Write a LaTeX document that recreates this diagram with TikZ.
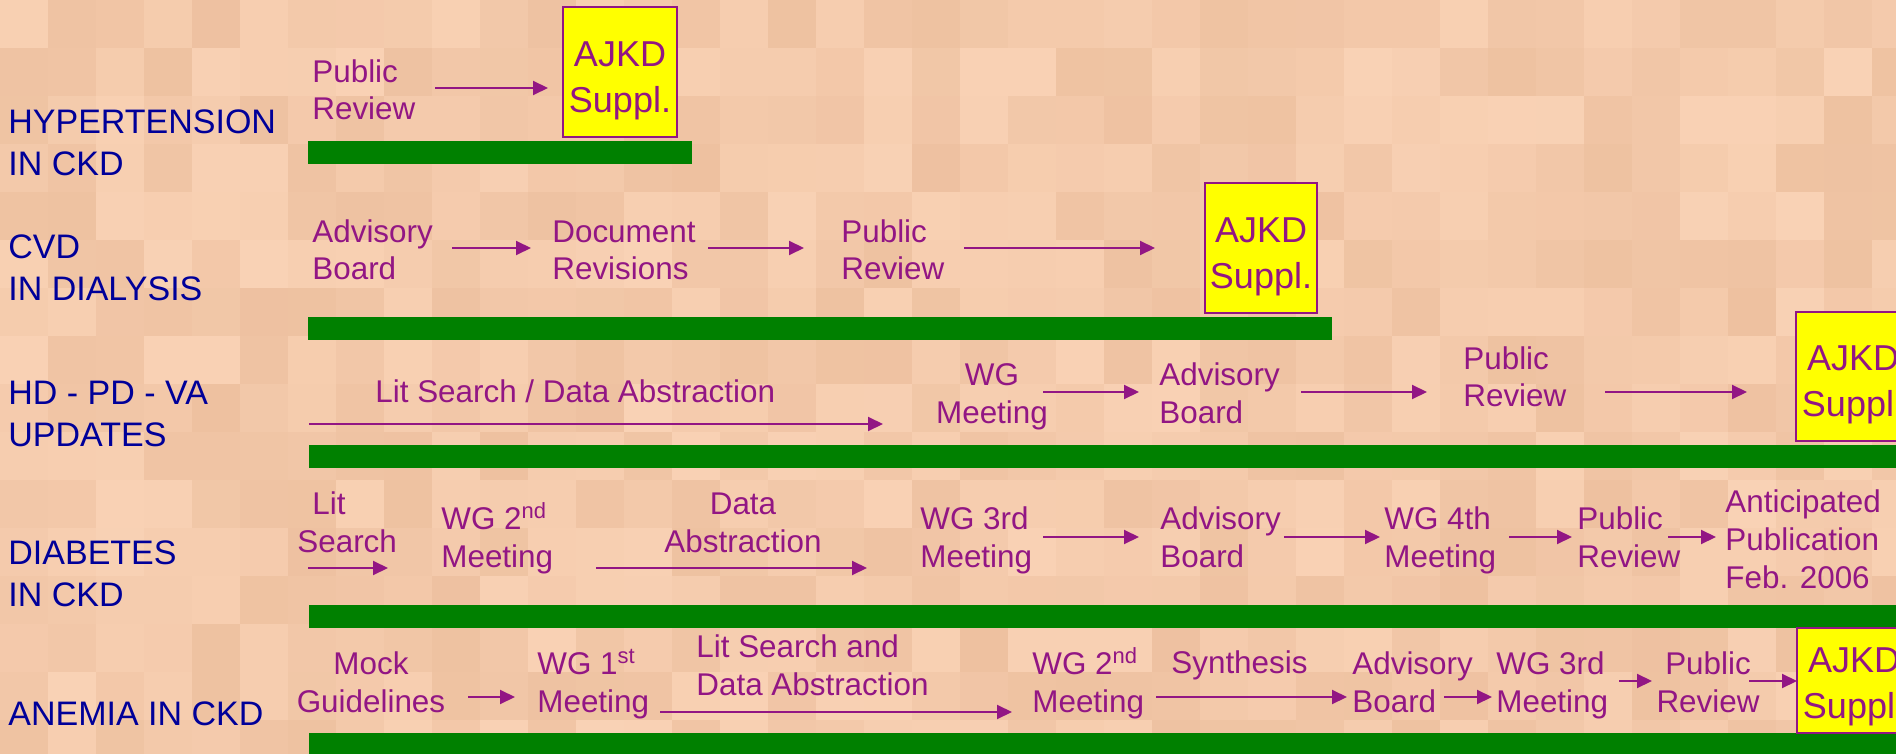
\documentclass[tikz,border=0pt]{standalone}
\usepackage{fontspec}
\setmainfont{Liberation Sans}
\usetikzlibrary{arrows.meta}
\definecolor{bgA}{RGB}{252,214,186}
\definecolor{bgB}{RGB}{233,186,152}
\definecolor{navyblue}{RGB}{0,0,153}
\definecolor{plum}{RGB}{146,22,132}
\definecolor{barGreen}{RGB}{0,128,0}
\definecolor{pubYellow}{RGB}{255,255,0}
\begin{document}
\begin{tikzpicture}[x=0.5pt,y=-0.5pt,
  lbl/.style={text=navyblue, font=\fontsize{17}{21}\selectfont, align=left, anchor=base west, inner sep=0pt},
  stage/.style={text=plum, font=\fontsize{15.7}{18.8}\selectfont, align=left, anchor=base west, inner sep=0pt},
  stagec/.style={stage, align=center, anchor=base},
  flow/.style={draw=plum, line width=1pt, -{Triangle[length=7.5pt,width=7pt]}},
  bar/.style={fill=barGreen, draw=none},
  pubbox/.style={draw=plum, line width=0.7pt, fill=pubYellow, inner sep=0pt},
  pubtext/.style={text=plum, font=\fontsize{18}{23}\selectfont, align=center, inner sep=0pt}]
% background
\useasboundingbox (0,0) rectangle (1896,754);
\clip (0,0) rectangle (1896,754);
\fill[bgA] (0,0) rectangle (1896,754);
\pgfmathsetseed{7}
\foreach \i in {0,...,39}{
  \foreach \j in {0,...,15}{
    \pgfmathsetmacro{\m}{int(25+rnd*60)}
    \fill[bgA!\m!bgB] (\i*48,\j*48) rectangle +(48,48);
  }
}
% ---------- green bars ----------
\fill[bar] (308,141) rectangle (692,164);
\fill[bar] (308,317) rectangle (1332,340);
\fill[bar] (309,445) rectangle (1896,468);
\fill[bar] (309,605) rectangle (1896,628);
\fill[bar] (309,733) rectangle (1896,754);
% ---------- row labels ----------
\node[lbl] (l1) at (8,176) {HYPERTENSION\\IN CKD};
\node[lbl] (l2) at (8,301) {CVD\\IN DIALYSIS};
\node[lbl] (l3) at (8,446) {HD - PD - VA\\UPDATES};
\node[lbl] (l4) at (8,606) {DIABETES\\IN CKD};
\node[lbl] (l5) at (8,725) {ANEMIA IN CKD};
% ---------- row 1 ----------
\node[stage] (r1a) at (312,120) {Public\\Review};
\node[pubbox, minimum width=57pt, minimum height=65pt] (r1b) at (620,72) {};
\node[pubtext] (r1bt) at ([yshift=-4.5pt]r1b.center) {AJKD\\Suppl.};
\coordinate (r1a1) at (435,88); \coordinate (r1a2) at (548,88);
\draw[flow] (r1a1) -- (r1a2);
% ---------- row 2 ----------
\node[stage] (r2a) at (312,280) {Advisory\\Board};
\node[stage] (r2b) at (552,280) {Document\\Revisions};
\node[stage] (r2c) at (841,280) {Public\\Review};
\node[pubbox, minimum width=56pt, minimum height=65pt] (r2d) at (1261,248) {};
\node[pubtext] (r2dt) at ([yshift=-4.5pt]r2d.center) {AJKD\\Suppl.};
\coordinate (r2s1) at (452,248); \coordinate (r2e1) at (531,248);
\coordinate (r2s2) at (708,248); \coordinate (r2e2) at (804,248);
\coordinate (r2s3) at (964,248); \coordinate (r2e3) at (1155,248);
\draw[flow] (r2s1) -- (r2e1);
\draw[flow] (r2s2) -- (r2e2);
\draw[flow] (r2s3) -- (r2e3);
% ---------- row 3 ----------
\node[stage] (r3a) at (375,402) {Lit Search / Data Abstraction};
\node[stagec] (r3b) at (992,423) {WG\\Meeting};
\node[stage] (r3c) at (1159,423) {Advisory\\Board};
\node[stage] (r3d) at (1463,407) {Public\\Review};
\node[pubbox, minimum width=57pt, minimum height=64.5pt] (r3e) at (1853,376.5) {};
\node[pubtext] (r3et) at ([yshift=-4pt]r3e.center) {AJKD\\Suppl.};
\coordinate (r3s1) at (309,424); \coordinate (r3e1) at (883,424);
\coordinate (r3s2) at (1043,392); \coordinate (r3e2) at (1139,392);
\coordinate (r3s3) at (1301,392); \coordinate (r3e3) at (1427,392);
\coordinate (r3s4) at (1605,392); \coordinate (r3e4) at (1747,392);
\draw[flow] (r3s1) -- (r3e1);
\draw[flow] (r3s2) -- (r3e2);
\draw[flow] (r3s3) -- (r3e3);
\draw[flow] (r3s4) -- (r3e4);
% ---------- row 4 ----------
\node[stage] (r4a) at (297,552) {\hspace*{7.5pt}Lit\\Search};
\node[stage] (r4b) at (441,567) {WG 2\textsuperscript{nd}\\Meeting};
\node[stagec] (r4c) at (743,552) {Data\\Abstraction};
\node[stage] (r4d) at (920,567) {WG 3rd\\Meeting};
\node[stage] (r4e) at (1160,567) {Advisory\\Board};
\node[stage] (r4f) at (1384,567) {WG 4th\\Meeting};
\node[stage] (r4g) at (1577,567) {Public\\Review};
\node[stage] (r4h) at (1725,588) {Anticipated\\Publication\\Feb. 2006};
\coordinate (r4s1) at (308,568); \coordinate (r4e1) at (388,568);
\coordinate (r4s2) at (596,568); \coordinate (r4e2) at (867,568);
\coordinate (r4s3) at (1043,537); \coordinate (r4e3) at (1139,537);
\coordinate (r4s4) at (1284,537); \coordinate (r4e4) at (1380,537);
\coordinate (r4s5) at (1509,537); \coordinate (r4e5) at (1572,537);
\coordinate (r4s6) at (1668,537); \coordinate (r4e6) at (1716,537);
\draw[flow] (r4s1) -- (r4e1);
\draw[flow] (r4s2) -- (r4e2);
\draw[flow] (r4s3) -- (r4e3);
\draw[flow] (r4s4) -- (r4e4);
\draw[flow] (r4s5) -- (r4e5);
\draw[flow] (r4s6) -- (r4e6);
% ---------- row 5 ----------
\node[stagec] (r5a) at (371,712) {Mock\\Guidelines};
\node[stage] (r5b) at (537,712) {WG 1\textsuperscript{st}\\Meeting};
\node[stage] (r5c) at (696,695) {Lit Search and\\Data Abstraction};
\node[stage] (r5d) at (1032,712) {WG 2\textsuperscript{nd}\\Meeting};
\node[stage] (r5e) at (1171,673) {Synthesis};
\node[stage] (r5f) at (1352,712) {Advisory\\Board};
\node[stage] (r5g) at (1496,712) {WG 3rd\\Meeting};
\node[stagec] (r5h) at (1708,712) {Public\\Review};
\node[pubbox, minimum width=57pt, minimum height=52.5pt] (r5i) at (1854,680.5) {};
\node[pubtext] (r5it) at ([yshift=-3pt]r5i.center) {AJKD\\Suppl.};
\coordinate (r5s1) at (468,697); \coordinate (r5e1) at (515,697);
\coordinate (r5s2) at (660,712); \coordinate (r5e2) at (1012,712);
\coordinate (r5s3) at (1156,697); \coordinate (r5e3) at (1347,697);
\coordinate (r5s4) at (1444,697); \coordinate (r5e4) at (1492,697);
\coordinate (r5s5) at (1619,681); \coordinate (r5e5) at (1652,681);
\coordinate (r5s6) at (1749,681); \coordinate (r5e6) at (1797,681);
\draw[flow] (r5s1) -- (r5e1);
\draw[flow] (r5s2) -- (r5e2);
\draw[flow] (r5s3) -- (r5e3);
\draw[flow] (r5s4) -- (r5e4);
\draw[flow] (r5s5) -- (r5e5);
\draw[flow] (r5s6) -- (r5e6);
\end{tikzpicture}
\end{document}
